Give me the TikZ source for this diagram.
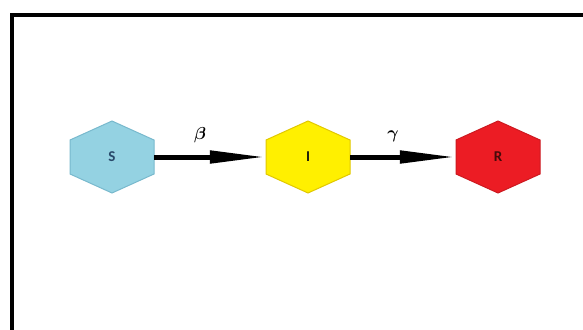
\documentclass[tikz,border=0pt]{standalone}
\usepackage{bm}
\usepackage{fontspec}
\newfontfamily\hexfont{Carlito}
\usetikzlibrary{arrows.meta}
\definecolor{sfill}{RGB}{148,210,226}
\definecolor{sdraw}{RGB}{120,185,205}
\definecolor{stext}{RGB}{40,72,105}
\definecolor{ifill}{RGB}{255,240,0}
\definecolor{idraw}{RGB}{225,200,0}
\definecolor{itext}{RGB}{30,30,10}
\definecolor{rfill}{RGB}{236,28,36}
\definecolor{rdraw}{RGB}{205,25,32}
\definecolor{rtext}{RGB}{70,10,10}
\tikzset{
  hexpath/.style={line width=1pt},
  hexlabel/.style={minimum width=84pt, minimum height=34pt, inner sep=0pt,
    font=\hexfont\bfseries\fontsize{15}{15}\selectfont},
  flow/.style={line width=5pt, -{Triangle[length=56pt,width=12pt]}},
  ratelabel/.style={font=\fontsize{16}{16}\selectfont},
  frame/.style={line width=4pt}
}
\begin{document}
\begin{tikzpicture}[x=1pt,y=-1pt]
\useasboundingbox (0,0) rectangle (583,329);
\clip (0,0) rectangle (583,329);
\draw[frame] (12,15) rectangle (600,345);
% hexagons
\path[hexpath, fill=sfill, draw=sdraw] (112,157) ++(0,-36) -- ++(42,19) -- ++(0,34) -- ++(-42,19) -- ++(-42,-19) -- ++(0,-34) -- cycle;
\path[hexpath, fill=ifill, draw=idraw] (308,157) ++(0,-36) -- ++(42,19) -- ++(0,34) -- ++(-42,19) -- ++(-42,-19) -- ++(0,-34) -- cycle;
\path[hexpath, fill=rfill, draw=rdraw] (498,157) ++(0,-36) -- ++(42,19) -- ++(0,34) -- ++(-42,19) -- ++(-42,-19) -- ++(0,-34) -- cycle;
\node[hexlabel, text=stext] (S) at (112,157) {S};
\node[hexlabel, text=itext] (I) at (308,157) {I};
\node[hexlabel, text=rtext] (R) at (498,157) {R};
\draw[flow] (S.east) -- (I.west);
\draw[flow] (I.east) -- (R.west);
\node[ratelabel] (beta) at (200,135) {$\bm{\beta}$};
\node[ratelabel] (gamma) at (393,136) {$\bm{\gamma}$};
\end{tikzpicture}
\end{document}
